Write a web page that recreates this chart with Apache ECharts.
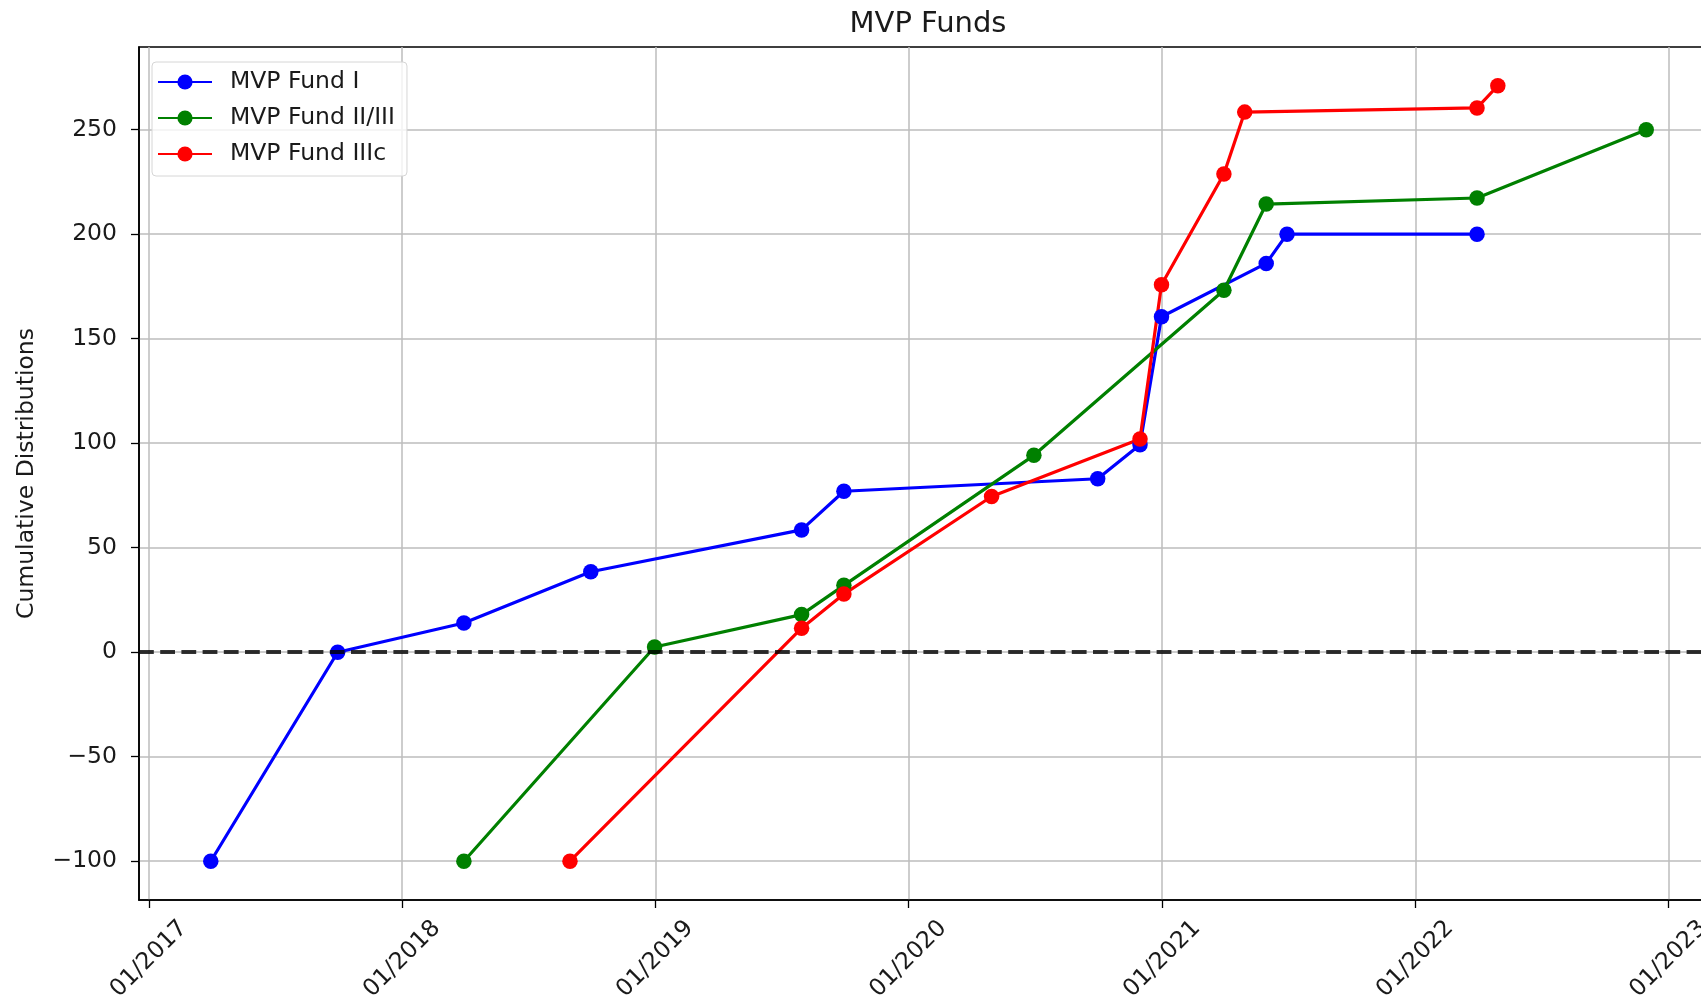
<!DOCTYPE html>
<html><head><meta charset="utf-8">
<script src="https://cdn.jsdelivr.net/npm/echarts@6/dist/echarts.min.js"></script>
<style>html,body{margin:0;padding:0;background:#fff}#c{width:1701px;height:1006px}</style>
</head><body><div id="c"></div>
<script>
const titleText = 'MVP Funds';
const yAxisName = 'Cumulative Distributions';
const seriesNames = ['MVP Fund I', 'MVP Fund II/III', 'MVP Fund IIIc'];
const seriesColors = ['#0000ff', '#008000', '#ff0000'];

const fund1Dates = ['2017-03-31','2017-09-30','2018-03-31','2018-09-30','2019-07-31','2019-09-30','2020-09-30','2020-11-30','2020-12-31','2021-05-31','2021-06-30','2022-03-31'];
const fund1Values = [-100, 0, 14, 38.5, 58.5, 77, 83, 99.3, 160.5, 186, 200, 200];

const fund2Dates = ['2018-03-31','2018-12-31','2019-07-31','2019-09-30','2020-06-30','2021-03-31','2021-05-31','2022-03-31','2022-11-30'];
const fund2Values = [-100, 2.5, 18, 32, 94.2, 173.2, 214.4, 217.3, 250];

const fund3Dates = ['2018-08-31','2019-07-31','2019-09-30','2020-04-30','2020-11-30','2020-12-31','2021-03-31','2021-04-30','2022-03-31','2022-04-30'];
const fund3Values = [-100, 11.5, 27.8, 74.5, 102, 175.8, 228.8, 258.4, 260.4, 271];

const yTickValues = [-100, -50, 0, 50, 100, 150, 200, 250];
const xTickDates = ['2017-01-01','2018-01-01','2019-01-01','2020-01-01','2021-01-01','2022-01-01','2023-01-01'];

function ts(s) { const p = s.split('-').map(Number); return Date.UTC(p[0], p[1] - 1, p[2]); }
function pairs(dates, vals) { return dates.map((d, i) => [ts(d), vals[i]]); }

const allDates = fund1Dates.concat(fund2Dates, fund3Dates).map(ts);
const allVals = fund1Values.concat(fund2Values, fund3Values);
const dMin = Math.min.apply(null, allDates), dMax = Math.max.apply(null, allDates);
const vMin = Math.min.apply(null, allVals), vMax = Math.max.apply(null, allVals);
const xMin = dMin - 0.05 * (dMax - dMin), xMax = dMax + 0.05 * (dMax - dMin);
const yMin = vMin - 0.05 * (vMax - vMin), yMax = vMax + 0.05 * (vMax - vMin);
const xTickValues = xTickDates.map(ts);

const FONT = 'DejaVu Sans';
const TXT = '#1a1a1a';

function mkSeries(name, color, data, extra) {
  return Object.assign({
    name: name, type: 'line', data: data,
    symbol: 'circle', symbolSize: 15.5, showSymbol: true,
    lineStyle: { color: color, width: 3.2 },
    itemStyle: { color: color },
    emphasis: { disabled: true }
  }, extra || {});
}

const chart = echarts.init(document.getElementById('c'), null, { renderer: 'canvas' });
chart.setOption({
  animation: false,
  backgroundColor: '#fff',
  title: {
    text: titleText, left: 923, top: 5, textAlign: 'center',
    textStyle: { fontFamily: FONT, fontSize: 29, fontWeight: 'normal', color: TXT }
  },
  legend: {
    orient: 'vertical', left: 152, top: 62,
    data: seriesNames,
    itemWidth: 54, itemHeight: 19, itemGap: 12,
    padding: [8, 12, 10, 5],
    backgroundColor: 'rgba(255,255,255,0.8)', borderColor: '#d6d6d6', borderWidth: 1, borderRadius: 4,
    selectedMode: false,
    textStyle: { fontFamily: FONT, fontSize: 23.5, color: TXT, lineHeight: 24, padding: [0, 0, 0, 13] }
  },
  grid: { left: 139, right: -17, top: 47, bottom: 106, outerBoundsMode: 'none', show: true, borderColor: '#000', borderWidth: 1.6, containLabel: false },
  xAxis: {
    type: 'value', min: xMin, max: xMax,
    axisLine: { show: true, onZero: false, lineStyle: { color: '#000', width: 1.6 } },
    axisTick: { show: true, length: 8, lineStyle: { color: '#000', width: 1.3 }, customValues: xTickValues },
    axisLabel: {
      customValues: xTickValues, rotate: 45, align: 'center', verticalAlign: 'middle', margin: 59,
      fontFamily: FONT, fontSize: 23.5, color: TXT,
      formatter: function (v) { const d = new Date(v); const m = d.getUTCMonth() + 1; return (m < 10 ? '0' + m : '' + m) + '/' + d.getUTCFullYear(); }
    },
    splitLine: { show: true, lineStyle: { color: '#bdbdbd', width: 1.5 } }
  },
  yAxis: {
    type: 'value', min: yMin, max: yMax,
    name: yAxisName, nameLocation: 'middle', nameGap: 100, nameRotate: 90,
    nameTextStyle: { fontFamily: FONT, fontSize: 23.5, color: TXT },
    axisLine: { show: true, onZero: false, lineStyle: { color: '#000', width: 1.6 } },
    axisTick: { show: true, length: 8, lineStyle: { color: '#000', width: 1.3 }, customValues: yTickValues },
    axisLabel: {
      customValues: yTickValues, margin: 22, fontFamily: FONT, fontSize: 23.5, color: TXT,
      formatter: function (v) { return v < 0 ? '\u2212' + Math.abs(v) : '' + v; }
    },
    splitLine: { show: true, lineStyle: { color: '#bdbdbd', width: 1.5 } }
  },
  series: [
    mkSeries(seriesNames[0], seriesColors[0], pairs(fund1Dates, fund1Values), {
      markLine: {
        silent: true, symbol: 'none', label: { show: false }, animation: false,
        lineStyle: { type: [14.8, 6.4], color: 'rgba(0,0,0,0.8)', width: 4 },
        data: [{ yAxis: 0 }]
      }
    }),
    mkSeries(seriesNames[1], seriesColors[1], pairs(fund2Dates, fund2Values)),
    mkSeries(seriesNames[2], seriesColors[2], pairs(fund3Dates, fund3Values))
  ]
});
</script>
</body></html>
